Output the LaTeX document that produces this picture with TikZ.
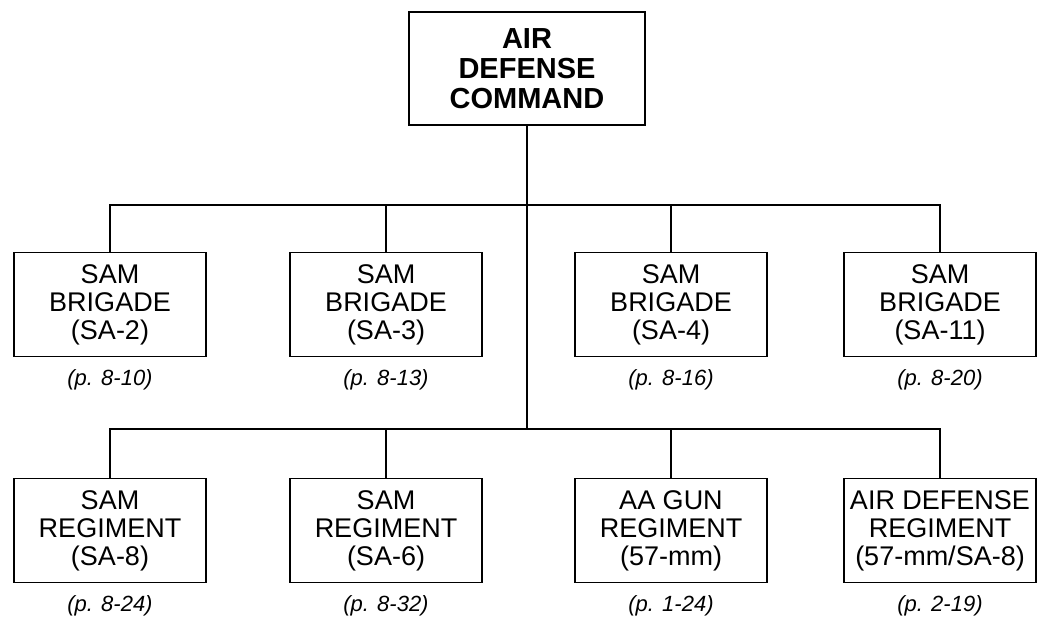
\documentclass[tikz,border=0pt]{standalone}
\usepackage{fontspec}
\setmainfont{Liberation Sans}
\usetikzlibrary{positioning}

\begin{document}
\begin{tikzpicture}[x=1pt, y=-1pt, line width=1.6pt,
  hq/.style={draw, minimum width=236pt, minimum height=113pt, align=center,
             font=\fontsize{29}{30}\selectfont\bfseries},
  unit/.style={draw, minimum width=192pt, minimum height=104pt, align=center,
               font=\fontsize{27}{28}\selectfont},
  pg/.style={inner sep=0pt, below=11pt of #1,
             font=\fontsize{22}{24}\selectfont\itshape}
]
  \useasboundingbox (0,0) rectangle (1038,617);
  \node[hq] (cmd) at (527,68.5) {AIR\\DEFENSE\\COMMAND};
  % brigades
  \node[unit] (b1) at (110,304.5) {SAM\\BRIGADE\\(SA-2)};
  \node[unit] (b2) at (386,304.5) {SAM\\BRIGADE\\(SA-3)};
  \node[unit] (b3) at (671,304.5) {SAM\\BRIGADE\\(SA-4)};
  \node[unit] (b4) at (940,304.5) {SAM\\BRIGADE\\(SA-11)};
  \node[pg=b1] (pb1) {(p. 8-10)};
  \node[pg=b2] (pb2) {(p. 8-13)};
  \node[pg=b3] (pb3) {(p. 8-16)};
  \node[pg=b4] (pb4) {(p. 8-20)};
  % regiments
  \node[unit] (r1) at (110,530.5) {SAM\\REGIMENT\\(SA-8)};
  \node[unit] (r2) at (386,530.5) {SAM\\REGIMENT\\(SA-6)};
  \node[unit] (r3) at (671,530.5) {AA GUN\\REGIMENT\\(57-mm)};
  \node[unit] (r4) at (940,530.5) {AIR DEFENSE\\REGIMENT\\(57-mm/SA-8)};
  \node[pg=r1] (pr1) {(p. 8-24)};
  \node[pg=r2] (pr2) {(p. 8-32)};
  \node[pg=r3] (pr3) {(p. 1-24)};
  \node[pg=r4] (pr4) {(p. 2-19)};
  % lines
  \coordinate (top) at (527,205);
  \coordinate (low) at (527,429);
  \draw (cmd) -- (low);
  \draw (b1.north) |- (top) -| (b4.north);
  \draw (b2.north) -- (b2.north |- top);
  \draw (b3.north) -- (b3.north |- top);
  \draw (r1.north) |- (low) -| (r4.north);
  \draw (r2.north) -- (r2.north |- low);
  \draw (r3.north) -- (r3.north |- low);
\end{tikzpicture}
\end{document}
